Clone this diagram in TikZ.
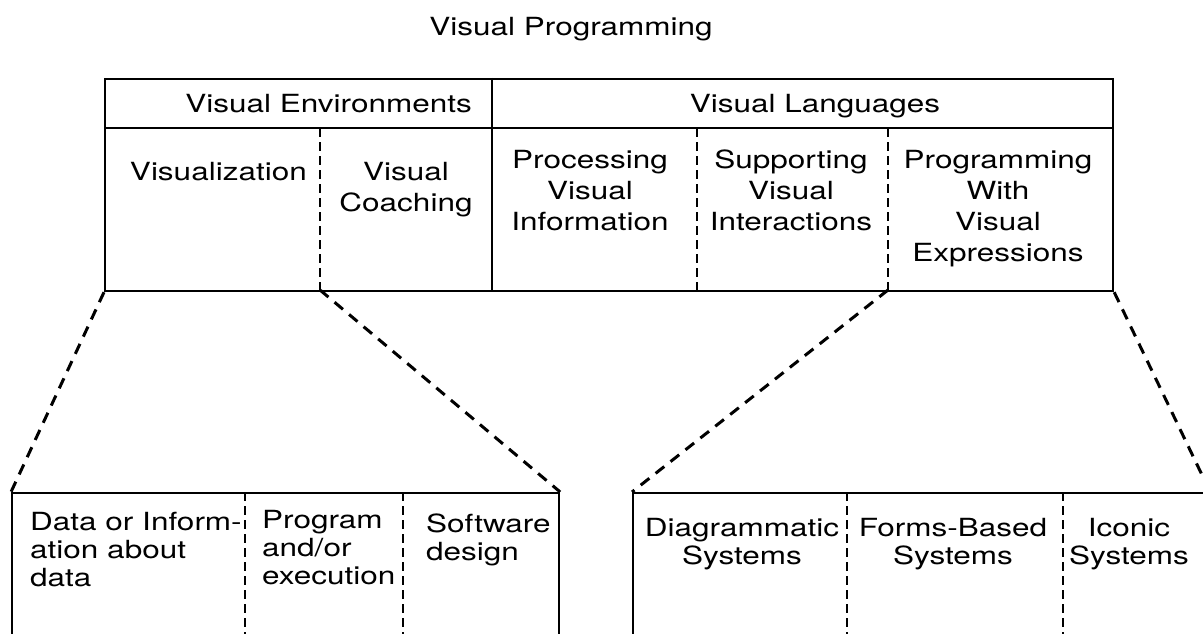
\documentclass[tikz,border=0pt]{standalone}
\usepackage{fontspec}
\setmainfont[FakeStretch=1.26]{TeX Gyre Heros}
\begin{document}
\begin{tikzpicture}[x=1pt,y=-1pt,
  box/.style={draw, line width=2.2pt, inner sep=0pt, anchor=north west},
  rule/.style={line width=2.2pt},
  divider/.style={line width=2.5pt, dash pattern=on 9pt off 5pt},
  link/.style={line width=3pt, dash pattern=on 11pt off 8pt},
  lbl/.style={inner sep=0pt, font=\fontsize{25}{31}\selectfont},
  sub/.style={inner sep=0pt, font=\fontsize{25}{28}\selectfont}]
\useasboundingbox (0,0) rectangle (1203,634);
\clip (0,0) rectangle (1203,634);

% title
\node[lbl, anchor=base] (title) at (571,36) {Visual Programming};

% upper table
\node[box, minimum width=1008pt, minimum height=212pt] (top) at (104,78) {};
\draw[rule] (104,128) -- (1112,128);
\draw[rule] (492,78) -- (492,290);
\coordinate (vc) at (320,290);
\coordinate (pw) at (888,290);
\draw[divider] (320,128) -- (vc);
\draw[divider] (697,128) -- (697,290);
\draw[divider] (888,128) -- (pw);

\node[lbl, anchor=base east] (venv) at (472,112) {Visual Environments};
\node[lbl, anchor=base] (vlang) at (815,112) {Visual Languages};

% (anchor=base of a multi-line node sits on its last line)
\node[lbl, anchor=base east] (vis) at (307,180) {Visualization};
\node[lbl, anchor=base, align=center] (coach) at (406,211) {Visual\\Coaching};
\node[lbl, anchor=base, align=center] (proc) at (590,230) {Processing\\Visual\\Information};
\node[lbl, anchor=base, align=center] (supp) at (791,230) {Supporting\\Visual\\Interactions};
\node[lbl, anchor=base, align=center] (prog) at (998,261) {Programming\\With\\Visual\\Expressions};

% lower left table
\node[box, minimum width=547pt, minimum height=160pt] (bl) at (11,492) {};
\draw[divider] (245,492) -- (245,652);
\draw[divider] (403,492) -- (403,652);
\node[sub, anchor=base west, align=left] (data) at (30,586) {Data or Inform-\\ation about\\data};
\node[sub, anchor=base west, align=left] (exec) at (262,584) {Program\\and/or\\execution};
\node[sub, anchor=base west, align=left] (soft) at (426,560) {Software\\design};

% lower right table
\node[box, minimum width=576pt, minimum height=160pt] (br) at (632,492) {};
\draw[divider] (847,492) -- (847,652);
\draw[divider] (1063,492) -- (1063,652);
\node[sub, anchor=base, align=center] (diag) at (742,564) {Diagrammatic\\Systems};
\node[sub, anchor=base, align=center] (forms) at (953,564) {Forms-Based\\Systems};
\node[sub, anchor=base, align=center] (icon) at (1129,564) {Iconic\\Systems};

% zoom-out connectors
\draw[link] (top.south west) -- (bl.north west);
\draw[link] (vc) -- (bl.north east);
\draw[link] (pw) -- (br.north west);
\draw[link] (top.south east) -- (br.north east);
\end{tikzpicture}
\end{document}
